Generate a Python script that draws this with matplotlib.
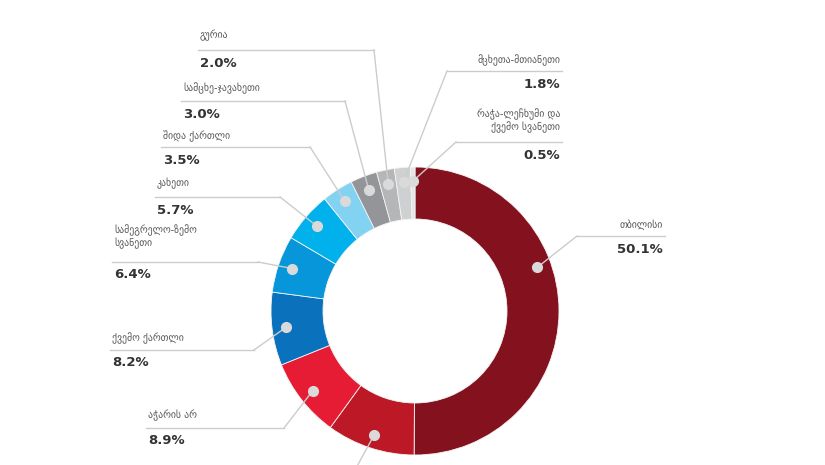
import numpy as np
import matplotlib
matplotlib.use("Agg")
import matplotlib.pyplot as plt

# data (clockwise from top)
regions = ["თბილისი", "იმერეთი", "აჭარის არ", "ქვემო ქართლი",
           "სამეგრელო-ზემო\nსვანეთი", "კახეთი", "შიდა ქართლი",
           "სამცხე-ჯავახეთი", "გურია", "მცხეთა-მთიანეთი",
           "რაჭა-ლეჩხუმი და\nქვემო სვანეთი"]
shares = [50.1, 9.9, 8.9, 8.2, 6.4, 5.7, 3.5, 3.0, 2.0, 1.8, 0.5]
colors = ["#84111e", "#bc1826", "#e61c35", "#0a72bd", "#0696d9", "#00b1ec",
          "#82d2f1", "#939598", "#b5b6b8", "#cfd0d2", "#e4e5e6"]

# label layout in pixels (y from top): text x, name y, underline y, underline end x, align
layout = [
    (663, 225, 236, 577, "right"),
    (None, None, None, 355, None),       # label below the visible area
    (148, 415, 428, 284, "left"),
    (112, 338, 350, 254, "left"),
    (114, 237, 262, 258, "left"),
    (157, 183, 197, 280, "left"),
    (163, 136, 147, 310, "left"),
    (183, 88, 101, 345, "left"),
    (200, 35, 50, 374, "left"),
    (560, 60, 71, 447, "right"),
    (560, 121, 142, 456, "right"),
]
dot_frac = [0.39, 0.5, 0.5, 0.5, 0.5, 0.5, 0.5, 0.5, 0.5, 0.5, 0.5]

W, H = 825, 465
cx, cy, R = 415, 311, 144
fig = plt.figure(figsize=(W / 100, H / 100), dpi=100, facecolor="white")
ax = fig.add_axes([0, 0, 1, 1])

ax.pie(shares, colors=colors, startangle=90, counterclock=False,
       radius=R, center=(cx, H - cy),
       wedgeprops=dict(width=52, edgecolor="#f4f4f4", linewidth=0.6))
ax.set_xlim(0, W)
ax.set_ylim(0, H)
ax.set_aspect("equal")
ax.axis("off")

line_col = "#cccccc"
cum = np.concatenate([[0], np.cumsum(shares)]) / sum(shares)
for i, (name, val) in enumerate(zip(regions, shares)):
    frac = cum[i] + (cum[i + 1] - cum[i]) * dot_frac[i]
    ang = np.deg2rad(90 - 360 * frac)
    dx, dy = cx + 130 * np.cos(ang), (H - cy) + 130 * np.sin(ang)
    tx, ny, uy, ex, ha = layout[i]
    if tx is None:
        # leader runs off the bottom edge
        ax.plot([dx, ex], [dy, -5], color=line_col, lw=1, zorder=3)
    else:
        ax.plot([dx, ex], [dy, H - uy], color=line_col, lw=1, zorder=3)
        if ha == "left":
            ax.plot([tx - 2, ex], [H - uy, H - uy], color=line_col, lw=1, zorder=3)
        else:
            ax.plot([ex, tx + 2], [H - uy, H - uy], color=line_col, lw=1, zorder=3)
        ax.text(tx, H - ny, name, ha=ha, va="center", fontsize=7,
                color="#555555", family="DejaVu Sans", linespacing=1.2)
        ax.text(tx, H - uy - 13, f"{val:.1f}%", ha=ha, va="center",
                fontsize=9.5, fontweight="bold", color="#333333")
    ax.plot(dx, dy, "o", ms=7, color="#dadada", zorder=4)

fig.savefig("out.png", dpi=100, facecolor="white")
